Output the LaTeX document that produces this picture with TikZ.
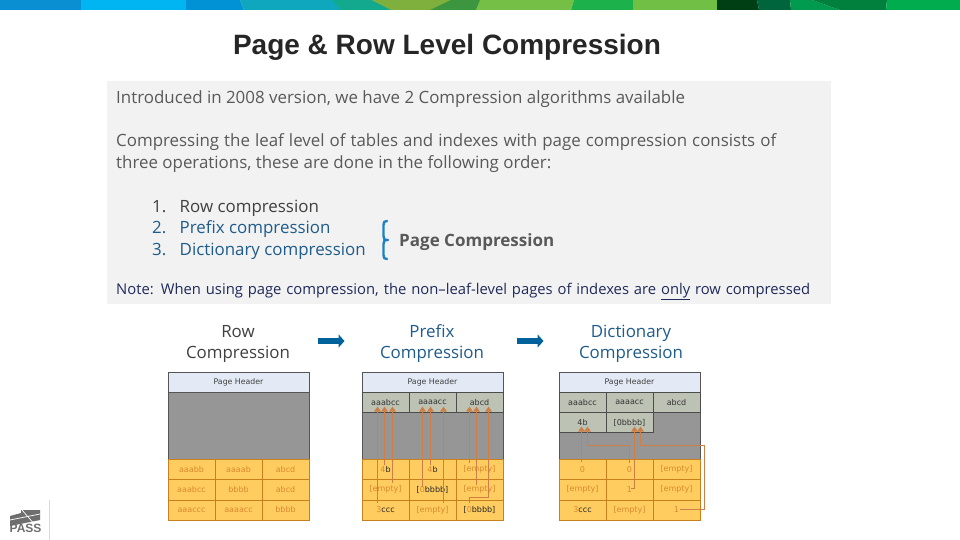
\documentclass[tikz,border=0pt]{standalone}
\usepackage{fontspec}
\setmainfont{Open Sans}
\newfontfamily\arialf{Liberation Sans}
\newfontfamily\vcell{DejaVu Sans}
\usetikzlibrary{arrows.meta,calc}
\definecolor{bodytxt}{HTML}{595959}
\definecolor{bluetxt}{HTML}{1F5C8B}
\definecolor{darkt}{HTML}{404040}
\definecolor{navyt}{HTML}{1F2A5A}
\definecolor{panel}{HTML}{F2F2F2}
\definecolor{hdr}{HTML}{E3EAF5}
\definecolor{grayf}{HTML}{969696}
\definecolor{dictf}{HTML}{BCC2B4}
\definecolor{rowf}{HTML}{FFCC5F}
\definecolor{rowl}{HTML}{C8801E}
\definecolor{celltx}{HTML}{D98A2E}
\definecolor{arrowc}{HTML}{CF7F45}
\definecolor{pageb}{HTML}{555555}
\definecolor{arrowb}{HTML}{00629B}
\definecolor{bracec}{HTML}{1F7FC4}
\definecolor{logoc}{HTML}{6E6E6E}
\tikzset{
  body/.style={anchor=base west,inner sep=0pt,font=\fontsize{16.9}{17}\selectfont,text=bodytxt},
  hcell/.style={fill=hdr,draw=pageb,line width=.8pt,text=black!75,inner sep=0pt,font=\vcell\fontsize{7.8}{9}\selectfont},
  dcell/.style={fill=dictf,draw=black!70,line width=.8pt,text=black!80,inner sep=0pt,font=\vcell\fontsize{8}{9}\selectfont},
  rcell/.style={fill=rowf,draw=rowl,line width=.7pt,text=celltx,inner sep=0pt,font=\vcell\fontsize{8}{9}\selectfont},
  graybox/.style={fill=grayf,draw=pageb,line width=.8pt,inner sep=0pt},
  flow/.style={draw=arrowc,line width=1.4pt,-{Triangle[length=5pt,width=6.5pt]}},
  stepcap/.style={align=center,inner sep=0pt,font=\fontsize{16.9}{21}\selectfont,anchor=base},
  bigarrow/.style={draw=arrowb,line width=6pt,-{Triangle[length=6pt,width=13pt]}}
}
\newcommand{\rectnode}[7]{%
  \node[#2,minimum width={(#5-#3)*1pt},minimum height={(#6-#4)*1pt}] (#1) at ({(#3+#5)/2},{(#4+#6)/2}) {#7};}
\newcommand{\dk}[1]{\textcolor{black!85}{#1}}
\newcommand{\bandp}[2]{\fill[fill=#1] #2 -- cycle;}
\begin{document}
\begin{tikzpicture}[x=1pt,y=-1pt]
\useasboundingbox (0,0) rectangle (960,540);
\fill[white] (0,0) rectangle (960,540);
% banner
\definecolor{b1}{HTML}{0A90D2}\definecolor{b2}{HTML}{00B5F1}\definecolor{b3}{HTML}{0092D4}
\definecolor{b4}{HTML}{0EA7BD}\definecolor{b5}{HTML}{12A98F}\definecolor{b6}{HTML}{7FAF3C}
\definecolor{b7}{HTML}{3C963F}\definecolor{b8}{HTML}{76BF47}\definecolor{b9}{HTML}{1DB14B}
\definecolor{b10}{HTML}{71BF44}\definecolor{b11}{HTML}{003E14}\definecolor{b12}{HTML}{00643C}
\definecolor{b13}{HTML}{009A4E}\definecolor{b14}{HTML}{007F3D}\definecolor{b15}{HTML}{00AC4E}
\bandp{b1}{(0,0) -- (82,0) -- (81,10) -- (0,10)}
\bandp{b2}{(81,0) -- (187,0) -- (186,10) -- (81,10)}
\bandp{b3}{(186,0) -- (240,0) -- (244,10) -- (186,10)}
\bandp{b4}{(240,0) -- (333,0) -- (342,10) -- (244,10)}
\bandp{b5}{(332,0) -- (372,0) -- (392,10) -- (341,10)}
\bandp{b6}{(372,0) -- (452,0) -- (440,10) -- (391,10)}
\bandp{b7}{(451,0) -- (481,0) -- (476,10) -- (430,10)}
\bandp{b8}{(480,0) -- (574,0) -- (571,10) -- (476,10)}
\bandp{b9}{(574,0) -- (633,0) -- (633,10) -- (571,10)}
\bandp{b10}{(633,0) -- (717,0) -- (717,10) -- (633,10)}
\bandp{b11}{(717,0) -- (757,0) -- (759,10) -- (717,10)}
\bandp{b12}{(757,0) -- (790,0) -- (791,10) -- (759,10)}
\bandp{b13}{(790,0) -- (812,0) -- (840,10) -- (791,10)}
\bandp{b14}{(812,0) -- (887,0) -- (886,10) -- (840,10)}
\bandp{b15}{(887,0) -- (960,0) -- (960,10) -- (886,10)}
% title
\node[anchor=base,inner sep=0pt,text=black!85,font=\arialf\bfseries\fontsize{28}{28}\selectfont] (title) at (447,55) {Page \& Row Level Compression};
% panel
\fill[panel] (107,81) rectangle (831,304);
\node[body] (t1) at (116,104) {Introduced in 2008 version, we have 2 Compression algorithms available};
\node[body] (t2) at (116,147) {\hbox to 660pt{Compressing the leaf level of tables and indexes with page compression consists of}};
\node[body] (t3) at (116,168) {three operations, these are done in the following order:};
\node[body,text=darkt] (n1) at (152,212) {1.};
\node[body,text=darkt] (l1) at (179.5,212) {Row compression};
\node[body,text=bluetxt] (n2) at (152,233) {2.};
\node[body,text=bluetxt] (l2) at (179.5,233) {Prefix compression};
\node[body,text=bluetxt] (n3) at (152,255) {3.};
\node[body,text=bluetxt] (l3) at (179.5,255) {Dictionary compression};
\draw[bracec,line width=2.4pt,line cap=round,line join=round] (387,221) .. controls (384,221) and (383.5,222) .. (383.5,225) -- (383.5,236) .. controls (383.5,239) and (384,240) .. (388,240) .. controls (384,240) and (383.5,241) .. (383.5,244) -- (383.5,255) .. controls (383.5,258) and (384,259) .. (387,259);
\node[body,text=bodytxt,font=\bfseries\fontsize{17}{17}\selectfont] (pc) at (399,246) {Page Compression};
\node[body,text=navyt,font=\fontsize{14.8}{15}\selectfont] (note) at (116,294) {\hbox to 694pt{Note: When using page compression, the non--leaf-level pages of indexes are \underline{only} row compressed}};
% captions
\node[stepcap,text=darkt] (c1) at (238,358) {Row\\Compression};
\node[stepcap,text=bluetxt] (c2) at (432,358) {Prefix\\Compression};
\node[stepcap,text=bluetxt] (c3) at (631,358) {Dictionary\\Compression};
\coordinate (a1s) at (318,341); \coordinate (a1e) at (344.5,341);
\coordinate (a2s) at (517,341); \coordinate (a2e) at (543.5,341);
\draw[bigarrow] (a1s) -- (a1e);
\draw[bigarrow] (a2s) -- (a2e);
% page 1
\rectnode{ph1}{hcell}{168}{372}{309}{392}{Page Header}
\rectnode{pg1}{graybox}{168}{392}{309}{459}{}
\rectnode{r11}{rcell}{168}{459}{215}{479.5}{aaabb}
\rectnode{r12}{rcell}{215}{459}{262}{479.5}{aaaab}
\rectnode{r13}{rcell}{262}{459}{309}{479.5}{abcd}
\rectnode{r21}{rcell}{168}{479.5}{215}{500}{aaabcc}
\rectnode{r22}{rcell}{215}{479.5}{262}{500}{bbbb}
\rectnode{r23}{rcell}{262}{479.5}{309}{500}{abcd}
\rectnode{r31}{rcell}{168}{500}{215}{520}{aaaccc}
\rectnode{r32}{rcell}{215}{500}{262}{520}{aaaacc}
\rectnode{r33}{rcell}{262}{500}{309}{520}{bbbb}
% page 2
\rectnode{ph2}{hcell}{362}{372}{503}{392}{Page Header}
\rectnode{pg2}{graybox}{362}{412}{503}{459}{}
\rectnode{d21}{dcell}{362}{392}{409}{412.5}{aaabcc}
\rectnode{d22}{dcell}{409}{392}{456}{412.5}{aaaacc}
\rectnode{d23}{dcell}{456}{392}{503}{412.5}{abcd}
\rectnode{s11}{rcell}{362}{459}{409}{479.5}{4\dk{b}}
\rectnode{s12}{rcell}{409}{459}{456}{479.5}{4\dk{b}}
\rectnode{s13}{rcell}{456}{459}{503}{479.5}{[empty]}
\rectnode{s21}{rcell}{362}{479.5}{409}{500}{[empty]}
\rectnode{s22}{rcell}{409}{479.5}{456}{500}{\dk{[}0\dk{bbbb]}}
\rectnode{s23}{rcell}{456}{479.5}{503}{500}{[empty]}
\rectnode{s31}{rcell}{362}{500}{409}{520}{3\dk{ccc}}
\rectnode{s32}{rcell}{409}{500}{456}{520}{[empty]}
\rectnode{s33}{rcell}{456}{500}{503}{520}{\dk{[}0\dk{bbbb]}}
% page 3
\rectnode{ph3}{hcell}{559}{372}{700}{392}{Page Header}
\rectnode{pg3}{graybox}{559}{412}{700}{459}{}
\rectnode{e21}{dcell}{559}{392}{606}{412.5}{aaabcc}
\rectnode{e22}{dcell}{606}{392}{653}{412.5}{aaaacc}
\rectnode{e23}{dcell}{653}{392}{700}{412.5}{abcd}
\rectnode{f21}{dcell}{559}{412.5}{606}{432.5}{4b}
\rectnode{f22}{dcell}{606}{412.5}{653}{432.5}{[0bbbb]}
\rectnode{u11}{rcell}{559}{459}{606}{479.5}{0}
\rectnode{u12}{rcell}{606}{459}{653}{479.5}{0}
\rectnode{u13}{rcell}{653}{459}{700}{479.5}{[empty]}
\rectnode{u21}{rcell}{559}{479.5}{606}{500}{[empty]}
\rectnode{u22}{rcell}{606}{479.5}{653}{500}{1}
\rectnode{u23}{rcell}{653}{479.5}{700}{500}{[empty]}
\rectnode{u31}{rcell}{559}{500}{606}{520}{3\dk{ccc}}
\rectnode{u32}{rcell}{606}{500}{653}{520}{[empty]}
\rectnode{u33}{rcell}{653}{500}{700}{520}{1}
% arrows page 2
\draw[flow] (377.5,503) -- (377.5,406.5);
\draw[flow] (384.5,465) -- (384.5,406.5);
\draw[flow] (392.5,483) -- (392.5,406.5);
\draw[flow] (422.5,487) -- (422.5,406.5);
\draw[flow] (430.5,465) -- (430.5,406.5);
\draw[flow] (443.5,503) -- (443.5,406.5);
\draw[flow] (469.5,463) -- (469.5,406.5);
\draw[flow] (476.5,485) -- (476.5,406.5);
\draw[flow] (469.5,503) -- (469.5,497.5) -- (488.5,497.5) -- (488.5,406.5);
% arrows page 3
\draw[flow] (581.5,461.5) -- (581.5,426.5);
\draw[flow] (629.5,463) -- (629.5,445.5) -- (587.5,445.5) -- (587.5,426.5);
\draw[flow] (631,488.5) -- (634.5,488.5) -- (634.5,426.5);
\draw[flow] (680,509.5) -- (704.5,509.5) -- (704.5,445.5) -- (640.5,445.5) -- (640.5,426.5);
% logo
\draw[black!15,line width=.8pt] (49,500) -- (49,540);
\fill[logoc] (10,516) -- (21,513) -- (21,510) -- (40,510) -- (40,520) -- (10,526) -- cycle;
\draw[white,line width=.7pt] (10,520) -- (40,514);
\draw[white,line width=.7pt] (22,510) -- (36,526);
\node[anchor=base west,inner sep=0pt,text=logoc,font=\arialf\bfseries\fontsize{12}{12}\selectfont] (logo) at (9.5,532) {PASS};
\end{tikzpicture}
\end{document}
